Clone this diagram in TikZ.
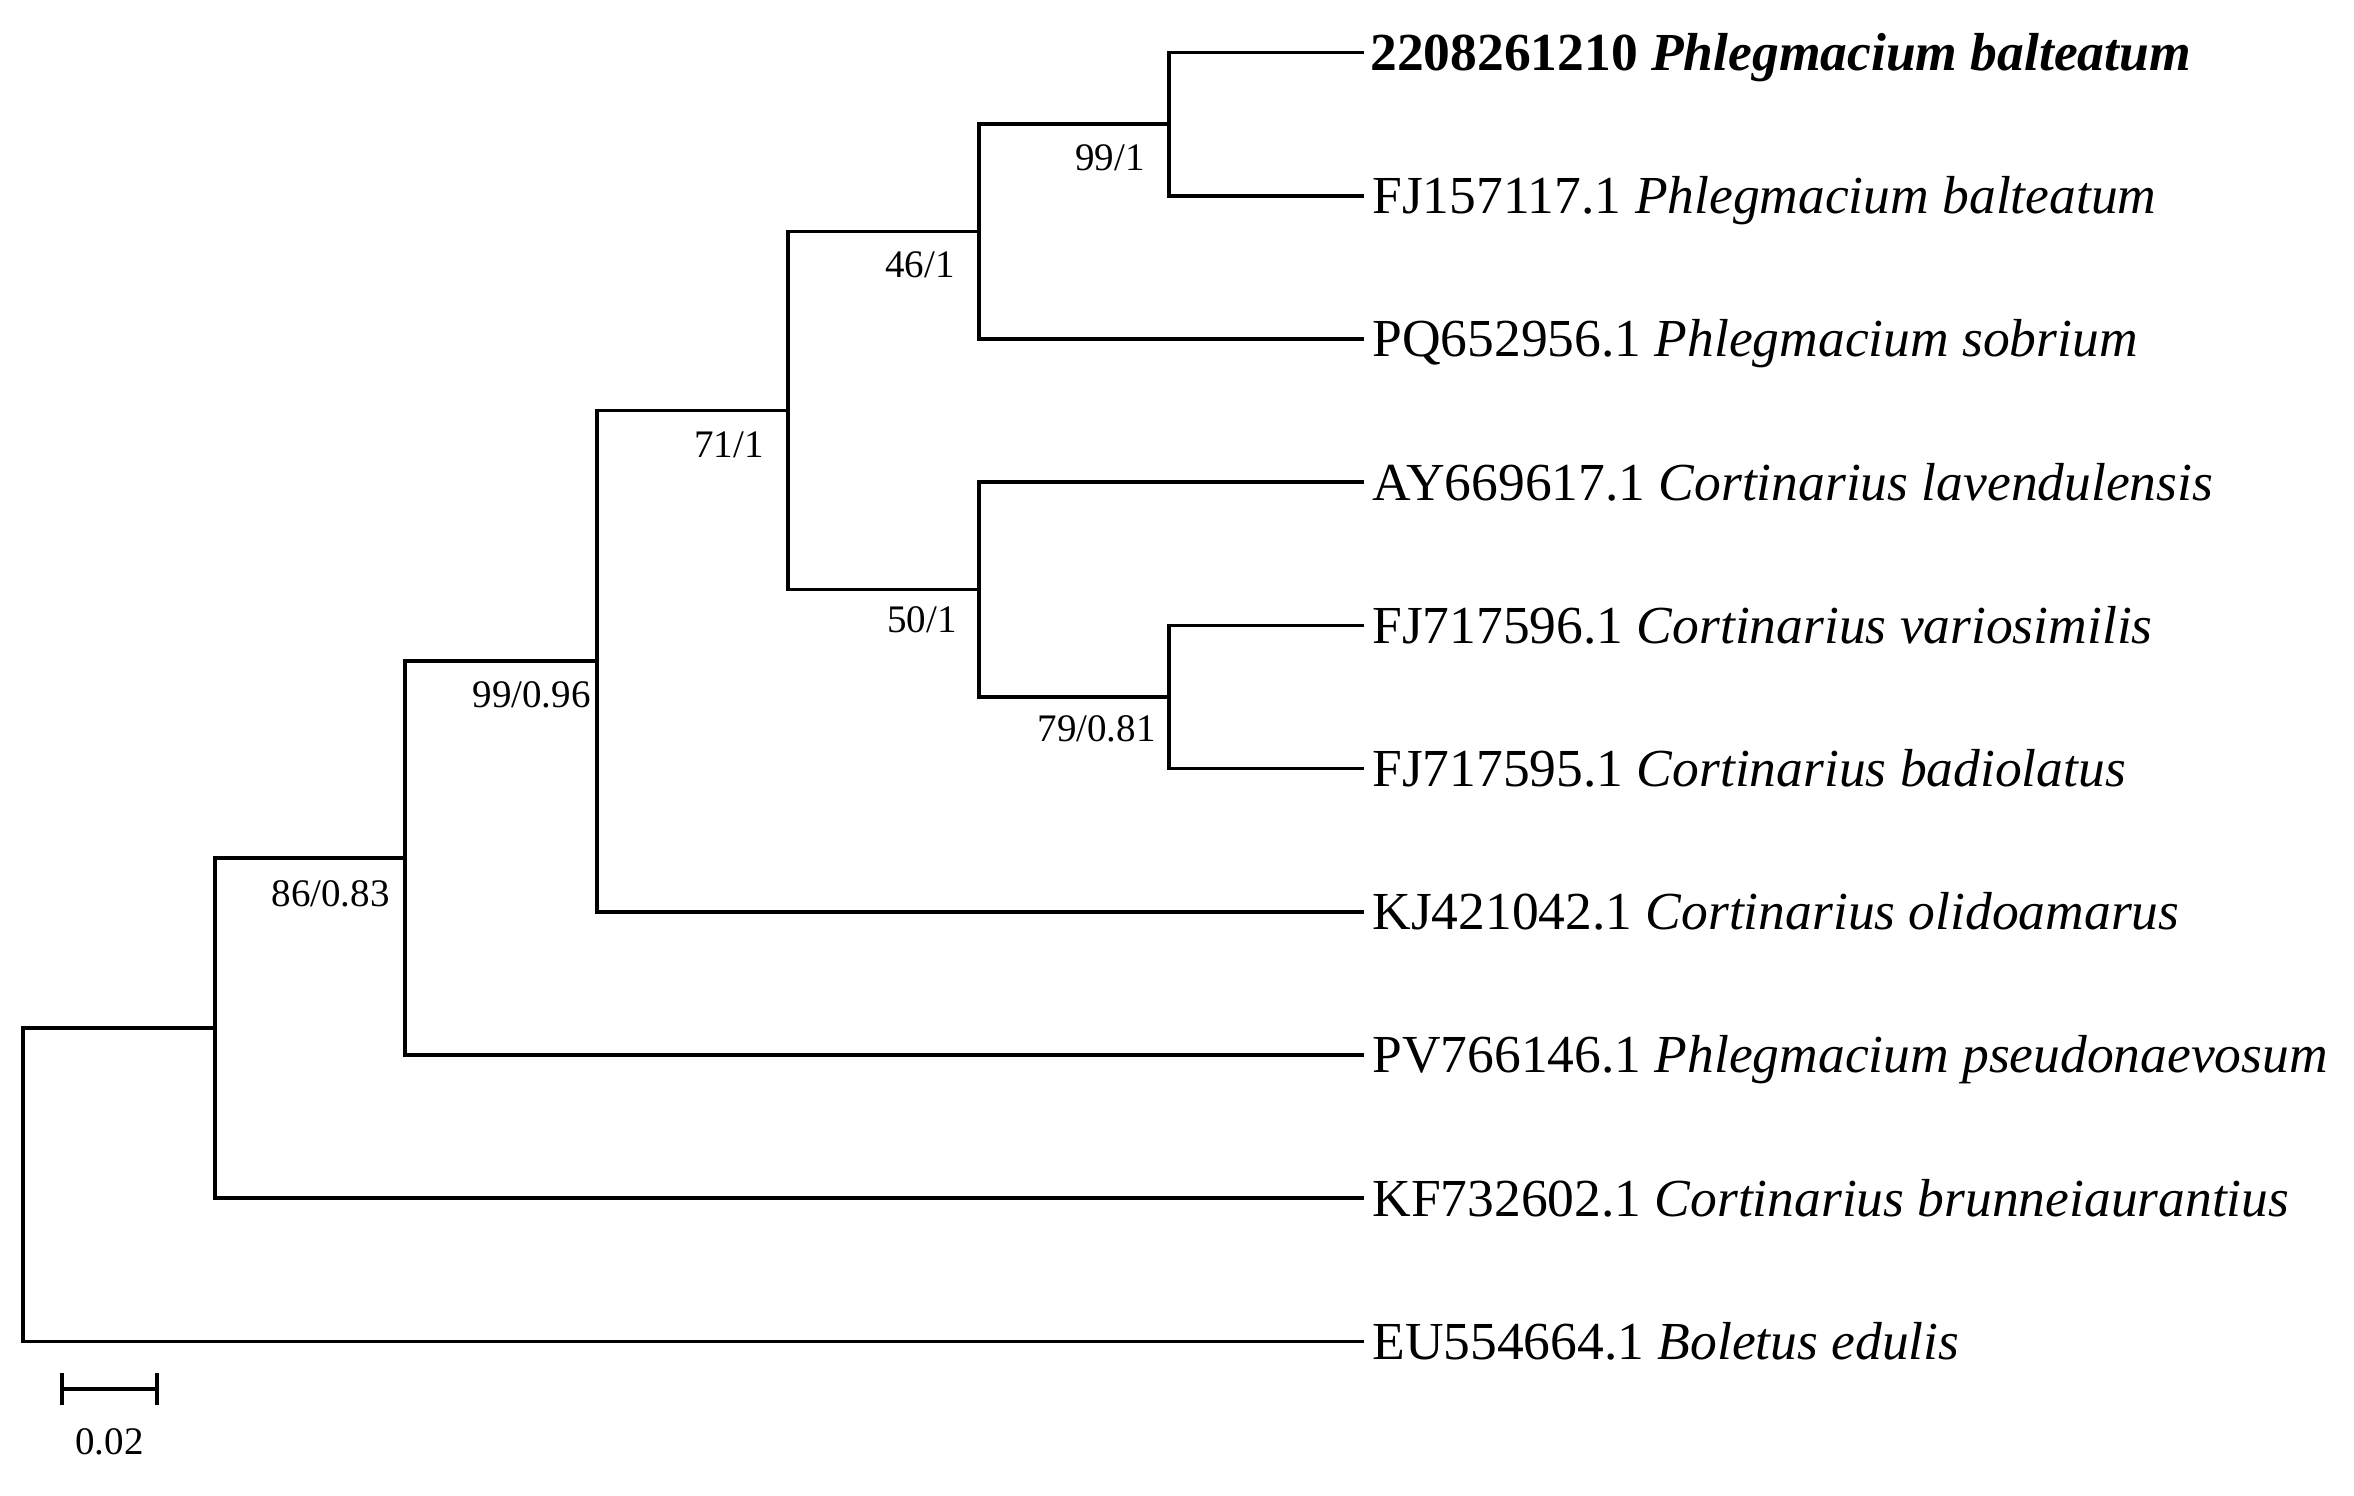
\documentclass[tikz,border=0pt]{standalone}
\usepackage{fontspec}
\setmainfont{Liberation Serif}
\begin{document}
\begin{tikzpicture}[x=0.5pt,y=-0.5pt,
  branch/.style={line width=1.8pt, line cap=rect},
  leaflbl/.style={anchor=base west, inner sep=0pt, font=\fontsize{26.75}{32}\selectfont},
  bslbl/.style={anchor=base east, inner sep=0pt, font=\fontsize{19.5}{23}\selectfont}]
\useasboundingbox (0,0) rectangle (2354,1495);
% leaf tips
\coordinate (t1) at (1362,52.5);
\coordinate (t2) at (1362,195.7);
\coordinate (t3) at (1362,338.9);
\coordinate (t4) at (1362,482.1);
\coordinate (t5) at (1362,625.3);
\coordinate (t6) at (1362,768.5);
\coordinate (t7) at (1362,911.7);
\coordinate (t8) at (1362,1054.9);
\coordinate (t9) at (1362,1198.1);
\coordinate (t10) at (1362,1341.3);
% internal nodes
\coordinate (G) at (1169,124.1);
\coordinate (E) at (979,231.5);
\coordinate (H) at (1169,696.9);
\coordinate (F) at (979,589.5);
\coordinate (D) at (788,410.5);
\coordinate (C) at (597,661.2);
\coordinate (B) at (405,858);
\coordinate (A) at (215,1028);
\coordinate (R) at (23,1184.7);
% branches
\draw[branch] (G) |- (t1);
\draw[branch] (G) |- (t2);
\draw[branch] (E) |- (G);
\draw[branch] (E) |- (t3);
\draw[branch] (H) |- (t5);
\draw[branch] (H) |- (t6);
\draw[branch] (F) |- (t4);
\draw[branch] (F) |- (H);
\draw[branch] (D) |- (E);
\draw[branch] (D) |- (F);
\draw[branch] (C) |- (D);
\draw[branch] (C) |- (t7);
\draw[branch] (B) |- (C);
\draw[branch] (B) |- (t8);
\draw[branch] (A) |- (B);
\draw[branch] (A) |- (t9);
\draw[branch] (R) |- (A);
\draw[branch] (R) |- (t10);
% leaf labels
\node[leaflbl] (l1) at (1370,70.5) {\textbf{2208261210 \textit{Phlegmacium balteatum}}};
\node[leaflbl] (l2) at (1372,213.7) {FJ157117.1 \textit{Phlegmacium balteatum}};
\node[leaflbl] (l3) at (1372,356.9) {PQ652956.1 \textit{Phlegmacium sobrium}};
\node[leaflbl] (l4) at (1372,500.1) {AY669617.1 \textit{Cortinarius lavendulensis}};
\node[leaflbl] (l5) at (1372,643.3) {FJ717596.1 \textit{Cortinarius variosimilis}};
\node[leaflbl] (l6) at (1372,786.5) {FJ717595.1 \textit{Cortinarius badiolatus}};
\node[leaflbl] (l7) at (1372,929.7) {KJ421042.1 \textit{Cortinarius olidoamarus}};
\node[leaflbl] (l8) at (1372,1072.9) {PV766146.1 \textit{Phlegmacium pseudonaevosum}};
\node[leaflbl] (l9) at (1372,1216.1) {KF732602.1 \textit{Cortinarius brunneiaurantius}};
\node[leaflbl] (l10) at (1372,1359.3) {EU554664.1 \textit{Boletus edulis}};
% support values
\node[bslbl] (bG) at (1145,170.7) {99/1};
\node[bslbl] (bE) at (955,277.5) {46/1};
\node[bslbl] (bD) at (764,457) {71/1};
\node[bslbl] (bF) at (957,632) {50/1};
\node[bslbl] (bH) at (1156,741) {79/0.81};
\node[bslbl] (bC) at (591,707) {99/0.96};
\node[bslbl] (bB) at (390,906) {86/0.83};
% scale bar
\coordinate (s1) at (62,1389);
\coordinate (s2) at (157,1389);
\draw[line width=1.8pt] (s1) -- (s2);
\draw[line width=1.8pt] ([yshift=8]s1) -- ([yshift=-8]s1);
\draw[line width=1.8pt] ([yshift=8]s2) -- ([yshift=-8]s2);
\node[anchor=base, inner sep=0pt, font=\fontsize{19.5}{23}\selectfont] (sl) at (109.5,1454) {0.02};
\end{tikzpicture}
\end{document}
